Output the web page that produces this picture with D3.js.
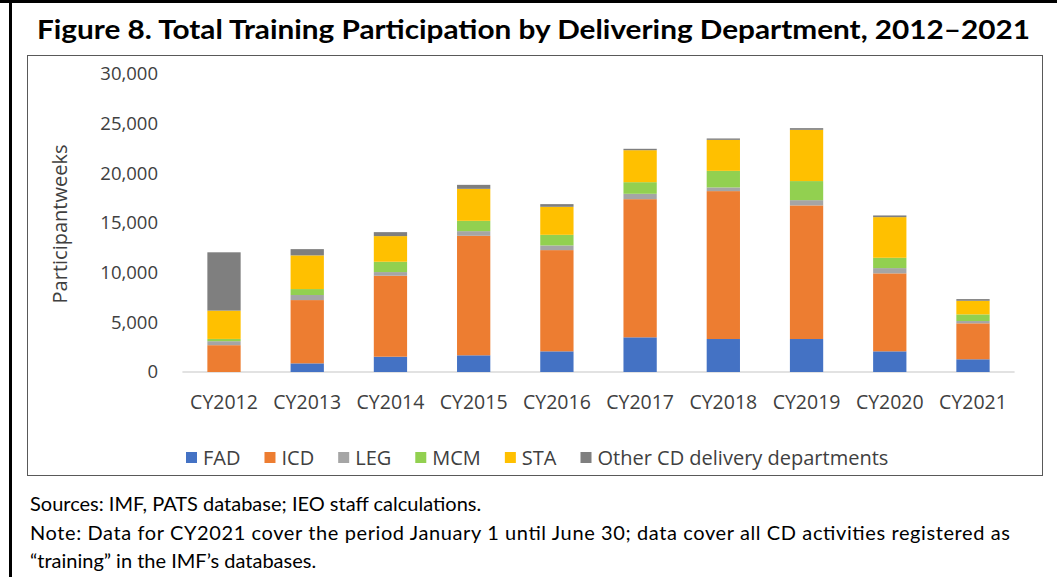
<!DOCTYPE html>
<html>
<head>
<meta charset="utf-8">
<style>
  body { margin: 0; background: #fff; }
  svg { display: block; }
  .title { font-family: Lato, 'Liberation Sans', sans-serif; font-weight: 700; font-size: 27px; }
  .axis text, .legend text, .ytitle { font-family: 'Open Sans', 'Noto Sans', sans-serif; fill: #404040; }
  .note { font-family: Lato, 'Liberation Sans', sans-serif; font-size: 20px; fill: #000; }
</style>
</head>
<body>
<svg width="1057" height="577"></svg>
<script src="https://d3js.org/d3.v7.min.js"></script>
<script>
const years = ["CY2012","CY2013","CY2014","CY2015","CY2016","CY2017","CY2018","CY2019","CY2020","CY2021"];
const FAD   = [0,   870, 1540,  1680,  2080,  3490,  3320,  3320,  2080, 1280];
const ICD   = [2700, 6370, 8150, 12030, 10190, 13910, 14890, 13450, 7850, 3620];
const LEG   = [400,  510,  370,   470,   470,   540,   370,   530,  530,  230];
const MCM   = [230,  600, 1040,  1040,  1070,  1170,  1670,  1920, 1040,  670];
const STA   = [2850, 3390, 2580, 3220,  2820,  3220,  3120,  5160, 4090, 1370];
const OTHER = [5870, 630,  400,   400,   270,   140,   140,   170,  170,  170];
const yTicks = [0, 5000, 10000, 15000, 20000, 25000, 30000];

const seriesNames = ["FAD","ICD","LEG","MCM","STA","Other CD delivery departments"];
const seriesVals = [FAD, ICD, LEG, MCM, STA, OTHER];
const colors = ["#4472C4","#ED7D31","#A5A5A5","#92D050","#FFC000","#7F7F7F"];

const svg = d3.select("svg");

// frame lines
svg.append("rect").attr("x", 0).attr("y", 0).attr("width", 1057).attr("height", 3).attr("fill", "#000");
svg.append("rect").attr("x", 9).attr("y", 0).attr("width", 3).attr("height", 577).attr("fill", "#000");
svg.append("rect").attr("x", 27.5).attr("y", 55.5).attr("width", 1015).attr("height", 420)
  .attr("fill", "none").attr("stroke", "#595959").attr("stroke-width", 1);

// title
svg.append("text").attr("class", "title")
  .attr("x", 37).attr("y", 39)
  .attr("textLength", 993).attr("lengthAdjust", "spacingAndGlyphs")
  .text("Figure 8. Total Training Participation by Delivering Department, 2012\u20132021");

const x = d3.scaleBand().domain(years).range([182.4, 1014.6]).paddingInner(0.6).paddingOuter(0.3);
const y = d3.scaleLinear().domain([0, 30000]).range([372, 74]);

const table = years.map((yr, i) => {
  const row = { year: yr };
  seriesNames.forEach((s, j) => row[s] = seriesVals[j][i]);
  return row;
});
const stacked = d3.stack().keys(seriesNames)(table);

// baseline
svg.append("line").attr("x1", 182.4).attr("x2", 1014.6).attr("y1", y(0)).attr("y2", y(0))
  .attr("stroke", "#d9d9d9").attr("stroke-width", 1.5);

svg.append("g").selectAll("g")
  .data(stacked)
  .join("g")
  .attr("fill", (d, i) => colors[i])
  .selectAll("rect")
  .data(d => d)
  .join("rect")
  .attr("x", d => x(d.data.year))
  .attr("width", x.bandwidth())
  .attr("y", d => y(d[1]))
  .attr("height", d => y(d[0]) - y(d[1]));

// y axis
const yAxis = svg.append("g").attr("class", "axis")
  .attr("transform", "translate(182,0)")
  .call(d3.axisLeft(y).tickValues(yTicks).tickSize(0).tickPadding(24).tickFormat(d3.format(",")));
yAxis.select(".domain").remove();
yAxis.selectAll("text").attr("font-size", 18.5).attr("font-family", null);

// x axis
const xAxis = svg.append("g").attr("class", "axis")
  .attr("transform", `translate(0,${y(0)})`)
  .call(d3.axisBottom(x).tickSize(0).tickPadding(23));
xAxis.select(".domain").remove();
xAxis.selectAll("text").attr("font-size", 19.5).attr("font-family", null);

svg.append("text").attr("class", "ytitle")
  .attr("transform", "translate(67,224) rotate(-90)")
  .attr("text-anchor", "middle").attr("font-size", 20)
  .text("Participantweeks");

// legend
const legend = svg.append("g").attr("class", "legend");
let lx = 186;
seriesNames.forEach((s, i) => {
  const g = legend.append("g").attr("transform", `translate(${lx},458)`);
  g.append("rect").attr("x", 0).attr("y", -6).attr("width", 11).attr("height", 11).attr("fill", colors[i]);
  const t = g.append("text").attr("x", 17).attr("y", 0).attr("dy", "0.35em")
    .attr("font-size", 20).text(s);
  lx += 17 + t.node().getComputedTextLength() + 24;
});

// notes
svg.append("text").attr("class", "note").attr("x", 30).attr("y", 511)
  .text("Sources: IMF, PATS database; IEO staff calculations.");
svg.append("text").attr("class", "note").attr("x", 30).attr("y", 540)
  .attr("textLength", 980).attr("lengthAdjust", "spacing")
  .text("Note: Data for CY2021 cover the period January 1 until June 30; data cover all CD activities  registered as");
svg.append("text").attr("class", "note").attr("x", 30).attr("y", 568)
  .text("\u201Ctraining\u201D in the IMF\u2019s databases.");
</script>
</body>
</html>
